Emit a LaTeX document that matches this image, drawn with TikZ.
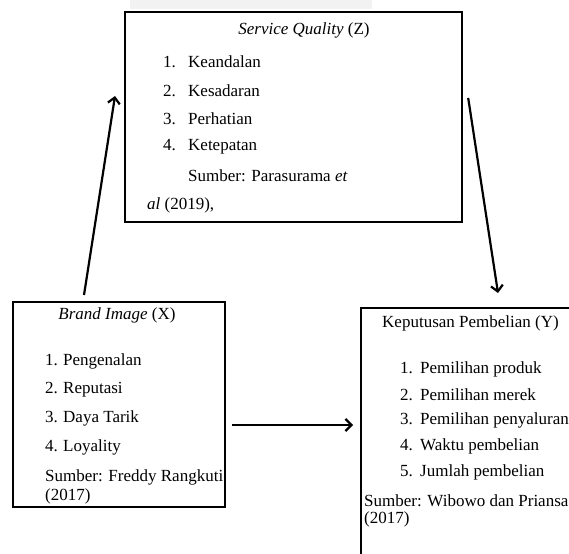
\documentclass[tikz,border=0pt]{standalone}
\usepackage{fontspec}
\setmainfont{Liberation Serif}
\usetikzlibrary{arrows.meta,positioning}

\tikzset{
  varbox/.style={draw, line width=2.2pt, anchor=north west, inner sep=0pt},
  txt/.style={anchor=west, inner sep=0pt, font=\fontsize{17}{20}\selectfont},
  link/.style={line width=2.2pt, -{Straight Barb[length=6pt,width=12pt]}}
}
\newcommand{\num}[1]{\makebox[25pt][l]{#1.}}

\begin{document}
\begin{tikzpicture}[x=1pt,y=-1pt]
  \useasboundingbox (0,0) rectangle (569,553);
  \clip (0,0) rectangle (569,553);
  \fill[gray!10] (130,0) rectangle (372,9);

  \node[varbox, minimum width=337pt, minimum height=210pt] (z) at (124,11) {};
  \node[txt, anchor=center] (zt) at (304,30) {\textit{Service Quality} (Z)};
  \foreach \t [count=\k] in {Keandalan,Kesadaran,Perhatian,Ketepatan}
    \node[txt] (z\k) at (163,{62+28.4*(\k-1)}) {\num{\k}\t};
  \node[txt] (zs) at (188,176) {Sumber: Parasurama \textit{et}};
  \node[txt] (za) at (147,205) {\textit{al} (2019),};

  \node[varbox, minimum width=212pt, minimum height=205pt] (x) at (12,301) {};
  \node[txt, anchor=center] (xt) at (117,315) {\textit{Brand Image} (X)};
  \foreach \t [count=\k] in {Pengenalan,Reputasi,Daya Tarik,Loyality}
    \node[txt] (x\k) at (45,{361+28.8*(\k-1)}) {\makebox[18pt][l]{\k.}\t};
  \node[txt] (xs) at (45,477) {Sumber: Freddy Rangkuti};
  \node[txt] (xy) at (45,496) {(2017)};

  \node[varbox, minimum width=260pt, minimum height=300pt] (y) at (360,307) {};
  \node[txt] (yt) at (382,323) {Keputusan Pembelian (Y)};
  \foreach \t [count=\k] in {Pemilihan produk,Pemilihan merek,Pemilihan penyaluran,Waktu pembelian,Jumlah pembelian}
    \node[txt] (y\k) at (400,{369+25.8*(\k-1)}) {\makebox[20pt][l]{\k.}\t};
  \node[txt] (ys) at (364,501) {Sumber: Wibowo dan Priansa};
  \node[txt] (yy) at (364,519) {(2017)};

  \draw[link] ([xshift=72pt,yshift=6pt]x.north west) -- ([xshift=-9pt,yshift=-85pt]z.north west);
  \draw[link] ([xshift=5pt,yshift=-87pt]z.north east) -- ([xshift=138pt,yshift=14pt]y.north west);
  \draw[link] ([xshift=6pt,yshift=-124pt]x.north east) -- ([xshift=-7pt,yshift=-118pt]y.north west);
\end{tikzpicture}
\end{document}
